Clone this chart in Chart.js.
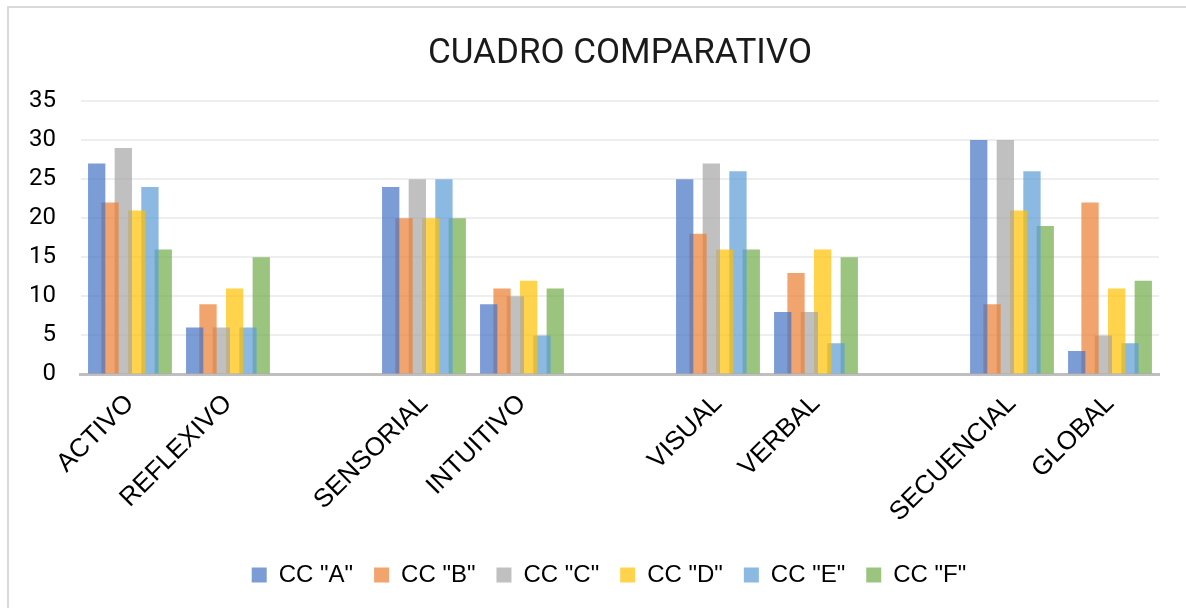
<!DOCTYPE html>
<html>
<head>
<meta charset="utf-8">
<script src="https://cdn.jsdelivr.net/npm/chart.js@4"></script>
<style>
  html, body { margin: 0; padding: 0; background: #fff; overflow: hidden; }
  #frame {
    position: absolute; left: 7px; top: 6px; width: 1300px; height: 700px;
    border: 2px solid #d9d9d9; box-sizing: border-box;
  }
  #wrap { position: absolute; left: 0; top: 0; width: 1186px; height: 608px; }
</style>
</head>
<body>
<div id="frame"></div>
<div id="wrap"><canvas id="chart" width="1186" height="608"></canvas></div>
<script>
// categories (blank slots keep the gaps between pairs)
const categories = [
  "ACTIVO", "REFLEXIVO", "",
  "SENSORIAL", "INTUITIVO", "",
  "VISUAL", "VERBAL", "",
  "SECUENCIAL", "GLOBAL",
];

const seriesNames = ['CC "A"', 'CC "B"', 'CC "C"', 'CC "D"', 'CC "E"', 'CC "F"'];

const ccA = [27, 6, null, 24, 9, null, 25, 8, null, 30, 3];
const ccB = [22, 9, null, 20, 11, null, 18, 13, null, 9, 22];
const ccC = [29, 6, null, 25, 10, null, 27, 8, null, 30, 5];
const ccD = [21, 11, null, 20, 12, null, 16, 16, null, 21, 11];
const ccE = [24, 6, null, 25, 5, null, 26, 4, null, 26, 4];
const ccF = [16, 15, null, 20, 11, null, 16, 15, null, 19, 12];

const yTicks = [0, 5, 10, 15, 20, 25, 30, 35];

const seriesColors = [
  "rgba(68, 114, 196, 0.7)",
  "rgba(237, 125, 49, 0.7)",
  "rgba(165, 165, 165, 0.7)",
  "rgba(255, 192, 0, 0.7)",
  "rgba(91, 155, 213, 0.7)",
  "rgba(112, 173, 71, 0.7)",
];

const allSeries = [ccA, ccB, ccC, ccD, ccE, ccF];

// legend sits a bit left of the plot centre in the original
const legendShift = {
  id: "legendShift",
  afterLayout(chart) {
    const lg = chart.legend;
    if (!lg) return;
    lg.left -= 11;
    lg.right -= 11;
  },
};

new Chart(document.getElementById("chart"), {
  type: "bar",
  data: {
    labels: categories,
    datasets: allSeries.map((values, i) => ({
      label: seriesNames[i],
      data: values,
      backgroundColor: seriesColors[i],
      borderWidth: 0,
      barPercentage: 1.3,
      categoryPercentage: 0.815,
    })),
  },
  options: {
    responsive: false,
    animation: false,
    layout: { padding: { left: 4, right: 27, top: 0, bottom: 11 } },
    plugins: {
      title: {
        display: true,
        fullSize: false,
        text: "CUADRO COMPARATIVO",
        color: "#1a1a1a",
        font: { family: "Roboto", size: 35, weight: "normal" },
        padding: { top: 33, bottom: 26 },
      },
      legend: {
        position: "bottom",
        fullSize: false,
        labels: {
          color: "#000",
          font: { family: "Liberation Sans", size: 24 },
          boxWidth: 15,
          boxHeight: 15,
          padding: 21,
        },
      },
      tooltip: { enabled: false },
    },
    scales: {
      x: {
        grid: { display: false, drawTicks: false },
        border: { display: true, color: "#bfbfbf", width: 3 },
        ticks: {
          color: "#000",
          font: { family: "Liberation Sans", size: 26 },
          maxRotation: 45,
          minRotation: 45,
          autoSkip: false,
          padding: 14,
        },
      },
      y: {
        min: 0,
        max: 35,
        afterBuildTicks: (axis) => {
          axis.ticks = yTicks.map((v) => ({ value: v }));
        },
        grid: { color: "#eeeeee", lineWidth: 2, drawTicks: false },
        border: { display: false },
        ticks: {
          color: "#000",
          font: { family: "Roboto", size: 24 },
          padding: 25,
        },
      },
    },
  },
  plugins: [legendShift],
});
</script>
</body>
</html>
